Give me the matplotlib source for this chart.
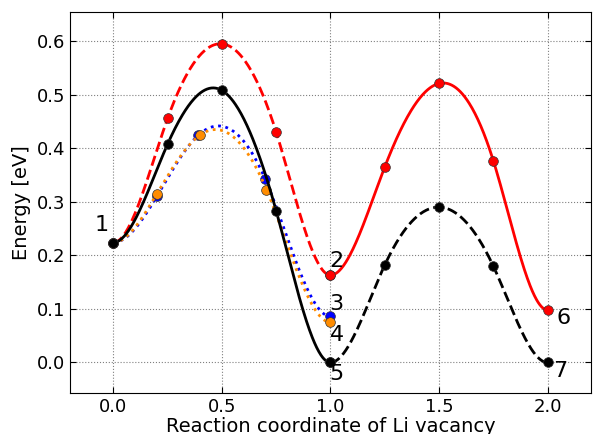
import matplotlib
matplotlib.use("Agg")
import matplotlib.pyplot as plt
import numpy as np

# Energy profiles along the Li vacancy path
x_a = [0.0, 0.25, 0.5, 0.75, 1.0]
red_dashed = [0.224, 0.456, 0.595, 0.430, 0.163]
black_solid = [0.224, 0.408, 0.508, 0.283, 0.0]

x_blue = [0.0, 0.2, 0.39, 0.7, 1.0]
blue_dotted = [0.224, 0.310, 0.424, 0.342, 0.086]

x_orange = [0.0, 0.2, 0.4, 0.705, 1.0]
orange_dotted = [0.224, 0.315, 0.425, 0.323, 0.075]

x_b = [1.0, 1.25, 1.5, 1.75, 2.0]
red_solid = [0.163, 0.365, 0.521, 0.377, 0.098]
black_dashed = [0.0, 0.182, 0.290, 0.180, 0.0]

labels = ["1", "2", "3", "4", "5", "6", "7"]
label_x = [-0.055, 1.028, 1.028, 1.028, 1.028, 2.074, 2.06]
label_y = [0.256, 0.189, 0.109, 0.051, -0.022, 0.083, -0.016]


def spline(x, y, n=300):
    # clamped cubic spline (flat at both ends), only used to draw the curve
    x = np.asarray(x, float)
    y = np.asarray(y, float)
    k = len(x)
    h = np.diff(x)
    A = np.zeros((k, k))
    b = np.zeros(k)
    A[0, 0], A[0, 1] = 2 * h[0], h[0]
    b[0] = 6 * (y[1] - y[0]) / h[0]
    A[-1, -2], A[-1, -1] = h[-1], 2 * h[-1]
    b[-1] = -6 * (y[-1] - y[-2]) / h[-1]
    for i in range(1, k - 1):
        A[i, i - 1] = h[i - 1]
        A[i, i] = 2 * (h[i - 1] + h[i])
        A[i, i + 1] = h[i]
        b[i] = 6 * ((y[i + 1] - y[i]) / h[i] - (y[i] - y[i - 1]) / h[i - 1])
    M = np.linalg.solve(A, b)
    xs = np.linspace(x[0], x[-1], n)
    idx = np.clip(np.searchsorted(x, xs) - 1, 0, k - 2)
    x0, x1 = x[idx], x[idx + 1]
    hh = x1 - x0
    t0, t1 = x1 - xs, xs - x0
    ys = (M[idx] * t0**3 / (6 * hh) + M[idx + 1] * t1**3 / (6 * hh)
          + (y[idx] / hh - M[idx] * hh / 6) * t0
          + (y[idx + 1] / hh - M[idx + 1] * hh / 6) * t1)
    return xs, ys


fig = plt.figure(figsize=(5.93, 4.34), dpi=100)
ax = fig.add_axes([0.118, 0.0945, 0.8786, 0.8785])

series = [
    (x_blue, blue_dotted, "blue", ":"),
    (x_orange, orange_dotted, "darkorange", ":"),
    (x_a, red_dashed, "red", "--"),
    (x_a, black_solid, "black", "-"),
    (x_b, red_solid, "red", "-"),
    (x_b, black_dashed, "black", "--"),
]
for xx, yy, c, ls in series:
    xs, ys = spline(xx, yy)
    ax.plot(xs, ys, color=c, linestyle=ls, linewidth=2)
    ax.plot(xx, yy, "o", color=c, markersize=7, markeredgecolor="#333333",
            markeredgewidth=0.5)

for t, tx, ty in zip(labels, label_x, label_y):
    ax.text(tx, ty, t, fontsize=16, ha="center", va="center")

ax.set_xlim(-0.2, 2.2)
ax.set_ylim(-0.057, 0.655)
ax.set_xticks([0.0, 0.5, 1.0, 1.5, 2.0])
ax.set_yticks([0.0, 0.1, 0.2, 0.3, 0.4, 0.5, 0.6])
ax.grid(True, color="gray", linestyle=":", linewidth=0.8)
ax.tick_params(direction="in", top=True, right=True, length=4, labelsize=13)
ax.set_xlabel("Reaction coordinate of Li vacancy", fontsize=14, labelpad=1)
ax.set_ylabel("Energy [eV]", fontsize=14)

fig.savefig("out.png", dpi=100)
